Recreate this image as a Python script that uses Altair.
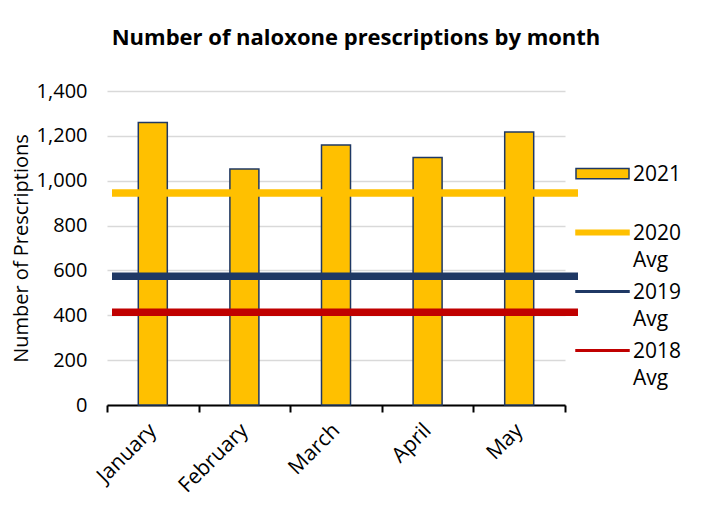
import altair as alt
import pandas as pd

months = ["January", "February", "March", "April", "May"]
rx_2021 = [1260, 1052, 1159, 1103, 1217]
avg_series = ["2020 Avg", "2019 Avg", "2018 Avg"]
avg_values = [945, 574, 413]
avg_colors = ["#FFC000", "#1F3864", "#C00000"]
series_domain = ["2021", "2020 Avg", "2019 Avg", "2018 Avg"]
legend_stroke = ["#1F3864", "#FFC000", "#1F3864", "#C00000"]
legend_shape = [
    "M-1,-0.45H1V-0.07H-1Z",
    "M-1,-0.345H1V-0.175H-1Z",
    "M-1,-0.288H1V-0.232H-1Z",
    "M-1,-0.288H1V-0.232H-1Z",
]

FONT = "Open Sans"
BAR_FILL = "#FFC000"
BAR_STROKE = "#1F3864"

bars_df = pd.DataFrame({"month": months, "value": rx_2021})
avg_df = pd.DataFrame({"series": avg_series, "value": avg_values})
key_df = pd.DataFrame({"series": series_domain, "value": [0] * len(series_domain)})

legend = alt.Legend(
    title=None,
    orient="none",
    legendX=468,
    legendY=62,
    symbolSize=2809,
    symbolFillColor=BAR_FILL,
    symbolStrokeWidth=1.5,
    symbolOpacity=1,
    labelFontSize=21,
    labelFont=FONT,
    labelColor="#000000",
    labelOffset=3,
    labelBaseline="alphabetic",
    rowPadding=0,
    labelExpr="datum.label == '2021' ? ['2021', ' '] : split(datum.label, ' ')",
)

x_enc = alt.X(
    "month:N",
    sort=months,
    scale=alt.Scale(domain=months, paddingInner=0, paddingOuter=0),
    axis=alt.Axis(
        title=None,
        labelAngle=-45,
        labelAlign="right",
        labelBaseline="middle",
        labelFontSize=21,
        labelFont=FONT,
        labelColor="#000000",
        labelPadding=15,
        domainColor="#000000",
        domainWidth=2,
        tickColor="#000000",
        tickWidth=2,
        tickSize=7,
        tickBand="extent",
        grid=False,
    ),
)

y_scale = alt.Scale(domain=[0, 1400], nice=False)
y_axis = alt.Axis(
    title="Number of Prescriptions",
    titleFont=FONT,
    titleFontSize=20,
    titleFontWeight="normal",
    titleColor="#000000",
    titleX=-86,
    titleY=157,
    titleBaseline="middle",
    labelFontSize=20,
    labelFont=FONT,
    labelColor="#000000",
    labelPadding=20,
    values=[0, 200, 400, 600, 800, 1000, 1200, 1400],
    format=",d",
    ticks=False,
    domain=False,
    grid=True,
    gridColor="#D9D9D9",
    gridWidth=1.5,
)

bars = alt.Chart(bars_df).mark_bar(size=29, fill=BAR_FILL, stroke=BAR_STROKE, strokeWidth=1.5).encode(
    x=x_enc,
    y=alt.Y("value:Q", scale=y_scale, axis=y_axis),
)

rules = alt.Chart(avg_df).mark_rule(strokeWidth=7.5).encode(
    y=alt.Y("value:Q", scale=y_scale),
    x=alt.value(5),
    x2=alt.value(471),
    color=alt.Color("series:N", scale=alt.Scale(domain=avg_series, range=avg_colors), legend=None),
)

key = alt.Chart(key_df).mark_point(size=0, filled=True, fill=BAR_FILL, opacity=1).encode(
    y=alt.Y("value:Q", scale=y_scale),
    shape=alt.Shape("series:N", scale=alt.Scale(domain=series_domain, range=legend_shape), legend=legend),
    stroke=alt.Stroke("series:N", scale=alt.Scale(domain=series_domain, range=legend_stroke), legend=legend),
)

chart = alt.layer(bars, rules, key).properties(
    width=458,
    height=314,
    padding={"left": 99, "top": 83, "right": 140, "bottom": 110},
    autosize=alt.AutoSizeParams(type="none"),
    title=alt.TitleParams(
        "Number of naloxone prescriptions by month",
        font=FONT,
        fontSize=22,
        fontWeight="bold",
        color="#000000",
        anchor="middle",
        frame="group",
        dx=20,
        offset=31,
    ),
).configure(
    style={"guide-label": {"lineHeight": 27}}
).configure_view(stroke=None)

chart.save("out.html", embed_options={"renderer": "svg", "actions": False})
